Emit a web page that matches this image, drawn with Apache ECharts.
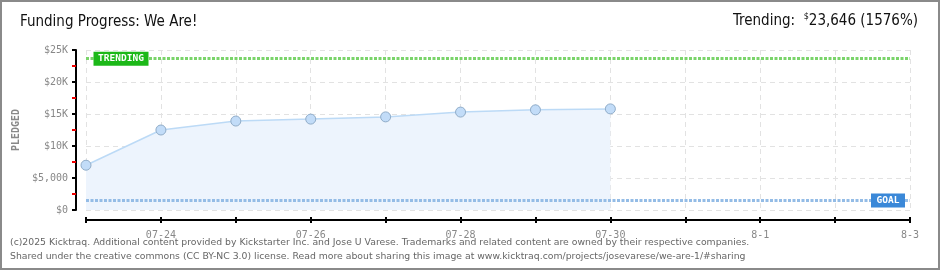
<!DOCTYPE html>
<html>
<head>
<meta charset="utf-8">
<script src="https://cdn.jsdelivr.net/npm/echarts@6/dist/echarts.min.js"></script>
<style>
html,body{margin:0;padding:0;background:#fff;}
#c{width:940px;height:270px;}
</style>
</head>
<body>
<div id="c"></div>
<script>
const categories = ['07-23','07-24','07-25','07-26','07-27','07-28','07-29','07-30','07-31','8-1','8-2','8-3'];
const xTickLabels = ['','07-24','','07-26','','07-28','','07-30','','8-1','','8-3'];
const pledged = [7000, 12500, 13900, 14200, 14550, 15300, 15650, 15800];
const yTickLabels = {0:'$0',5000:'$5,000',10000:'$10K',15000:'$15K',20000:'$20K',25000:'$25K'};
const goalValue = 1500;
const trendingValue = 23646;
const titleText = 'Funding Progress: We Are!';
const trendingPrefix = 'Trending:  ';
const trendingAmount = '23,646 (1576%)';
const footer1 = '(c)2025 Kicktraq. Additional content provided by Kickstarter Inc. and Jose U Varese. Trademarks and related content are owned by their respective companies.';
const footer2 = 'Shared under the creative commons (CC BY-NC 3.0) license. Read more about sharing this image at www.kicktraq.com/projects/josevarese/we-are-1/#sharing';

const chart = echarts.init(document.getElementById('c'), null, {renderer:'canvas'});
const axisFont = 'DejaVu Sans Mono';
const option = {
  animation:false,
  grid:{left:86,right:30,top:50,bottom:60},
  graphic:[
    {type:'rect',shape:{x:1,y:1,width:938,height:268},style:{fill:'none',stroke:'#8a8a8a',lineWidth:2},z:100},
    {type:'text',left:20,top:15,style:{text:titleText,font:'15px "DejaVu Sans Condensed"',fill:'#111'}},
    {type:'text',right:22,top:12,style:{
      text:'{a|'+trendingPrefix+'}{s|$}{b|'+trendingAmount+'}',
      rich:{
        a:{font:'15px "DejaVu Sans Condensed"',fill:'#111',verticalAlign:'bottom'},
        s:{font:'9px "DejaVu Sans Condensed"',fill:'#111',verticalAlign:'bottom',padding:[0,0,8,0]},
        b:{font:'15px "DejaVu Sans Condensed"',fill:'#111',verticalAlign:'bottom'}
      }}},
    {type:'text',left:10,top:238,style:{text:footer1,font:'9.3px "DejaVu Sans"',fill:'#666'}},
    {type:'text',left:10,top:252,style:{text:footer2,font:'9.3px "DejaVu Sans"',fill:'#666'}}
  ],
  xAxis:[{
    type:'category',data:categories,boundaryGap:false,offset:10,
    axisLine:{onZero:false,lineStyle:{color:'#000',width:2}},
    axisTick:{show:true,interval:0,length:3,lineStyle:{color:'#000',width:2}},
    axisLabel:{interval:0,formatter:(v,i)=>xTickLabels[i],color:'#888',fontFamily:axisFont,fontSize:10,margin:10},
    splitLine:{show:true,interval:0,lineStyle:{color:'#e2e2e2',type:[5,4],width:1}}
  },{
    type:'category',data:categories,boundaryGap:false,offset:10,position:'bottom',
    axisLine:{show:false,onZero:false},
    axisTick:{show:true,inside:true,interval:0,length:3,lineStyle:{color:'#000',width:2}},
    axisLabel:{show:false},splitLine:{show:false}
  }],
  yAxis:{
    type:'value',min:0,max:25000,interval:5000,offset:10,
    name:'PLEDGED',nameLocation:'middle',nameGap:45,nameRotate:90,
    nameTextStyle:{color:'#888',fontFamily:axisFont,fontSize:10,fontWeight:'bold'},
    axisLine:{show:true,lineStyle:{color:'#000',width:2}},
    axisTick:{show:true,length:4,lineStyle:{color:'#000',width:2}},
    minorTick:{show:true,splitNumber:2,length:4,lineStyle:{color:'#e00',width:2}},
    axisLabel:{formatter:v=>yTickLabels[v],color:'#888',fontFamily:axisFont,fontSize:10,margin:8},
    splitLine:{show:true,lineStyle:{color:'#e2e2e2',type:[5,4],width:1}}
  },
  series:[{
    type:'line',data:pledged,xAxisIndex:0,
    symbol:'circle',symbolSize:10,
    lineStyle:{color:'#bcdaf6',width:1.5},
    itemStyle:{color:'#c2dcf8',borderColor:'#90acc8',borderWidth:1},
    areaStyle:{color:'#edf4fd',opacity:1},
    markLine:{
      silent:true,symbol:'none',
      label:{show:false},
      data:[
        {yAxis:trendingValue,lineStyle:{color:'#7ad46a',type:[3,1.5],width:3,opacity:1}},
        {yAxis:goalValue,lineStyle:{color:'#94bce6',type:[3,1.5],width:3,opacity:1}}
      ]
    },
    markPoint:{
      silent:true,
      data:[
        {coord:[0,trendingValue],symbol:'rect',symbolSize:[55,14],symbolOffset:[35,0],
          itemStyle:{color:'#1cb818'},
          label:{show:true,formatter:'TRENDING',color:'#fff',fontFamily:axisFont,fontSize:9.5,fontWeight:'bold'}},
        {coord:[11,goalValue],symbol:'rect',symbolSize:[34,14],symbolOffset:[-22,0],
          itemStyle:{color:'#3a88d8'},
          label:{show:true,formatter:'GOAL',color:'#fff',fontFamily:axisFont,fontSize:9.5,fontWeight:'bold'}}
      ]
    }
  }]
};
chart.setOption(option);
</script>
</body>
</html>
